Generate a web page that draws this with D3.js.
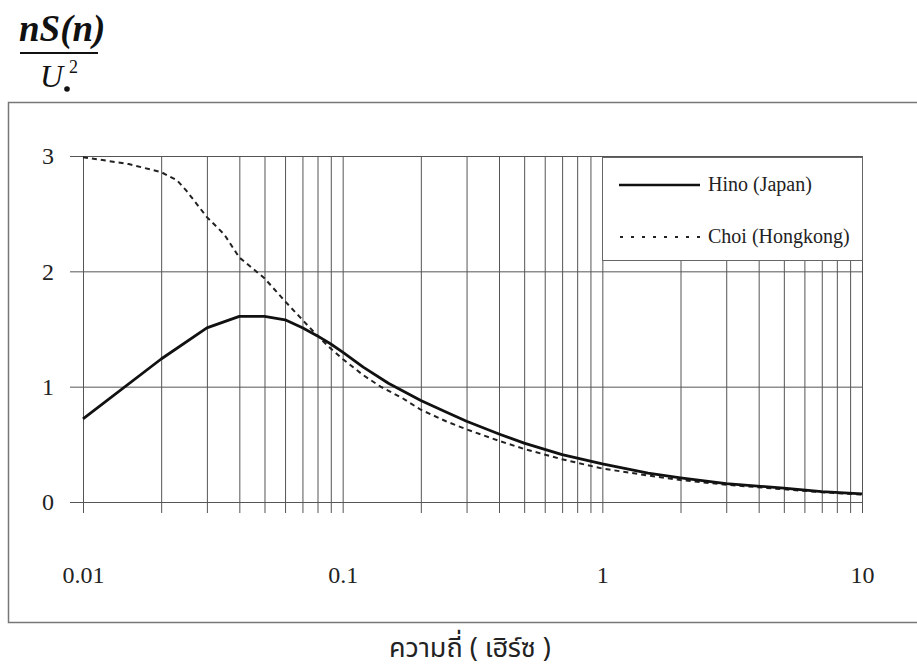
<!DOCTYPE html>
<html>
<head>
<meta charset="utf-8">
<script src="https://cdn.jsdelivr.net/npm/d3@7"></script>
<style>
  html, body { margin: 0; padding: 0; background: #fff; }
  svg { display: block; }
  .grid line { stroke: #555; stroke-width: 1; }
  .grid path { display: none; }
  .serif { font-family: "Liberation Serif", "Times New Roman", "DejaVu Serif", serif; }
  .lbl text { font-family: "Liberation Serif", "Times New Roman", serif; font-size: 24px; fill: #222; }
  .lbl path, .lbl line { display: none; }
</style>
</head>
<body>
<svg id="chart" width="917" height="672"></svg>
<script>
// Spectra (frequency in Hz, nS(n)/U*^2)
const hinoFreq = [0.01, 0.02, 0.03, 0.04, 0.05, 0.06, 0.07, 0.08, 0.09, 0.1, 0.12, 0.15, 0.2, 0.25, 0.3, 0.4, 0.5, 0.7, 1, 1.5, 2, 3, 5, 7, 10];
const hinoVal  = [0.72, 1.24, 1.51, 1.61, 1.61, 1.58, 1.51, 1.44, 1.37, 1.30, 1.17, 1.03, 0.88, 0.78, 0.70, 0.59, 0.51, 0.41, 0.33, 0.25, 0.21, 0.16, 0.12, 0.09, 0.07];

const choiFreq = [0.01, 0.015, 0.02, 0.023, 0.025, 0.03, 0.035, 0.04, 0.05, 0.06, 0.07, 0.08, 0.09, 0.1, 0.12, 0.14, 0.17, 0.2, 0.25, 0.3, 0.4, 0.5, 0.7, 1, 1.5, 2, 3, 5, 7, 10];
const choiVal  = [2.99, 2.93, 2.86, 2.79, 2.70, 2.47, 2.32, 2.12, 1.94, 1.74, 1.58, 1.44, 1.33, 1.24, 1.10, 1.00, 0.90, 0.80, 0.70, 0.63, 0.53, 0.46, 0.37, 0.29, 0.23, 0.19, 0.15, 0.11, 0.085, 0.065];

const xTickValues = [0.01, 0.1, 1, 10];
const xTickLabels = ["0.01", "0.1", "1", "10"];
const yTickValues = [0, 1, 2, 3];

const seriesNames = ["Hino (Japan)", "Choi (Hongkong)"];
const xTitle = "ความถี่ ( เฮิร์ซ )";

const svg = d3.select("#chart");

const x = d3.scaleLog().domain([0.01, 10]).range([83, 862]);
const y = d3.scaleLinear().domain([0, 3]).range([502, 156]);

// outer frame (its right side runs off the page in the scan)
svg.append("rect")
    .attr("x", 8.5).attr("y", 102.5)
    .attr("width", 940).attr("height", 520)
    .attr("fill", "none").attr("stroke", "#777").attr("stroke-width", 1.5);

// every decade subdivision gets a vertical line, hanging a bit below zero
const minorTicks = x.ticks();
svg.append("g")
    .attr("class", "grid")
    .attr("transform", "translate(0,513)")
    .call(d3.axisTop(x).tickValues(minorTicks).tickSize(513 - 156).tickFormat(""));

svg.append("g")
    .attr("class", "grid")
    .attr("transform", "translate(862,0)")
    .call(d3.axisLeft(y).tickValues(yTickValues).tickSize(862 - 70).tickFormat(""));

// tick labels
svg.append("g")
    .attr("class", "lbl")
    .attr("transform", "translate(0,563)")
    .call(d3.axisBottom(x).tickValues(xTickValues).tickSize(0)
        .tickFormat((d, i) => xTickLabels[i]));

svg.append("g")
    .attr("class", "lbl")
    .attr("transform", "translate(48,0)")
    .call(d3.axisLeft(y).tickValues(yTickValues).tickSize(0).tickPadding(0).tickFormat(d3.format("d")))
    .selectAll("text").attr("text-anchor", "middle");

// curves
const line = d3.line().x(d => x(d[0])).y(d => y(d[1]));

svg.append("path")
    .datum(d3.zip(choiFreq, choiVal))
    .attr("d", line)
    .attr("fill", "none")
    .attr("stroke", "#222")
    .attr("stroke-width", 2)
    .attr("stroke-dasharray", "5,4");

svg.append("path")
    .datum(d3.zip(hinoFreq, hinoVal))
    .attr("d", line)
    .attr("fill", "none")
    .attr("stroke", "#111")
    .attr("stroke-width", 2.8)
    .attr("stroke-linejoin", "round");

// legend box sits over the grid in the top right corner
const lg = svg.append("g");
lg.append("rect")
    .attr("x", 602.5).attr("y", 157.5)
    .attr("width", 260).attr("height", 103)
    .attr("fill", "#fff").attr("stroke", "#666").attr("stroke-width", 1);

lg.append("line")
    .attr("x1", 619).attr("x2", 700).attr("y1", 185).attr("y2", 185)
    .attr("stroke", "#111").attr("stroke-width", 2.4);
lg.append("line")
    .attr("x1", 620).attr("x2", 700).attr("y1", 237).attr("y2", 237)
    .attr("stroke", "#222").attr("stroke-width", 2).attr("stroke-dasharray", "3,8");

lg.selectAll("text.leg")
    .data(seriesNames)
    .join("text")
    .attr("class", "leg serif")
    .attr("x", 708)
    .attr("y", (d, i) => 191 + i * 52)
    .attr("font-size", 20)
    .attr("fill", "#222")
    .text(d => d);

// y title: nS(n) / U*^2
const tt = svg.append("g").attr("class", "serif").attr("fill", "#111");
tt.append("text")
    .attr("x", 19).attr("y", 41)
    .attr("font-size", 37).attr("font-style", "italic").attr("font-weight", "bold")
    .text("nS(n)");
tt.append("line")
    .attr("x1", 20).attr("x2", 98).attr("y1", 53).attr("y2", 53)
    .attr("stroke", "#111").attr("stroke-width", 2);
tt.append("text")
    .attr("x", 40).attr("y", 87)
    .attr("font-size", 32).attr("font-style", "italic")
    .text("U");
tt.append("text")
    .attr("x", 69).attr("y", 73)
    .attr("font-size", 18)
    .text("2");
tt.append("circle")
    .attr("cx", 67).attr("cy", 89).attr("r", 2.8);

// x title
svg.append("text")
    .attr("x", 470).attr("y", 657)
    .attr("text-anchor", "middle")
    .style("font-family", "'Noto Sans Thai', 'Noto Sans', 'DejaVu Sans', sans-serif")
    .attr("font-size", 27)
    .attr("fill", "#222")
    .text(xTitle);
</script>
</body>
</html>
